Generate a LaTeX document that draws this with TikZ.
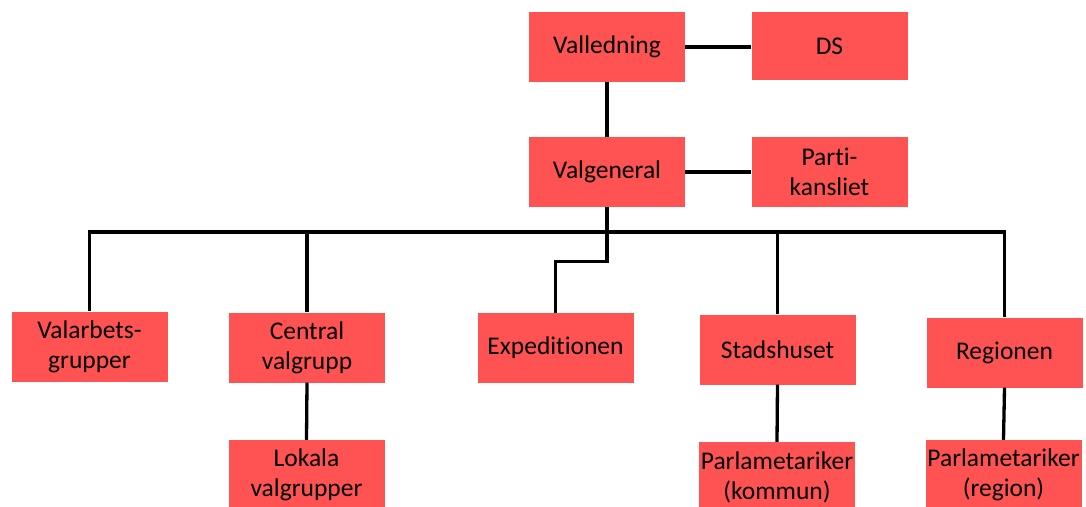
\documentclass[tikz,border=0pt]{standalone}
\usepackage{fontspec}
\setmainfont{Carlito}[Ligatures=CommonOff]
\definecolor{rouge}{RGB}{255,82,82}

\begin{document}
\begin{tikzpicture}[x=1pt,y=-1pt]
	\tikzstyle{boite}=[fill=rouge,minimum width=156pt,minimum height=70pt,inner sep=0pt,align=center,font=\fontsize{25.5}{30}\selectfont]
	\tikzstyle{trait}=[line width=3.3pt]
	
	\useasboundingbox (0,0) rectangle (1086,506);
	
	\def\NiveauA{47}
	\def\NiveauB{172}
	\def\NiveauC{348}
	\def\NiveauD{475}
	\def\Barre{232}
	
	\node[boite] (Valledning) at (607,{\NiveauA}) {Valledning};
	\node[boite,minimum height=68pt] (DS) at (829.5,{\NiveauA-1}) {DS};
	\node[boite] (Valgeneral) at (607,{\NiveauB}) {Valgeneral};
	\node[boite] (Parti) at (829.5,{\NiveauB}) {\rule{0pt}{10pt}Parti-\\kansliet};
	
	\node[boite] (Valarbets) at (89.5,{\NiveauC-1.5}) {Valarbets-\\grupper};
	\node[boite] (Central) at (307,{\NiveauC-0.5}) {Central\\valgrupp};
	\node[boite] (Expeditionen) at (555.5,{\NiveauC}) {Expeditionen};
	\node[boite] (Stadshuset) at (777.5,{\NiveauC+1.5}) {Stadshuset};
	\node[boite] (Regionen) at (1004.5,{\NiveauC+4.5}) {Regionen};
	
	\node[boite] (Lokala) at (306.5,{\NiveauD}) {Lokala\\valgrupper};
	\node[boite] (Kommun) at (777,{\NiveauD+2}) {Parlametariker\\(kommun)};
	\node[boite] (Region) at (1003.5,{\NiveauD}) {Parlametariker\\(region)};
	
	\coordinate (Bus) at (0,{\Barre});
	
	\draw[trait] (Valledning.east) -- (DS.west |- Valledning.east);
	\draw[trait] (Valledning.south) -- (Valgeneral.north);
	\draw[trait] (Valgeneral.east) -- (Parti.west |- Valgeneral.east);
	
	\draw[trait] (Valarbets.north) |- (Bus -| Regionen.north) -- (Regionen.north);
	\draw[trait] (Valgeneral.south) -- ++(0,54) -| (Expeditionen.north);
	\draw[trait] (Central.north) -- (Central.north |- Bus);
	\draw[trait] (Stadshuset.north) -- (Stadshuset.north |- Bus);
	
	\draw[trait] (Central.south) -- (Lokala.north);
	\draw[trait] (Stadshuset.south) -- (Kommun.north);
	\draw[trait] (Regionen.south) -- (Region.north);
\end{tikzpicture}
\end{document}
